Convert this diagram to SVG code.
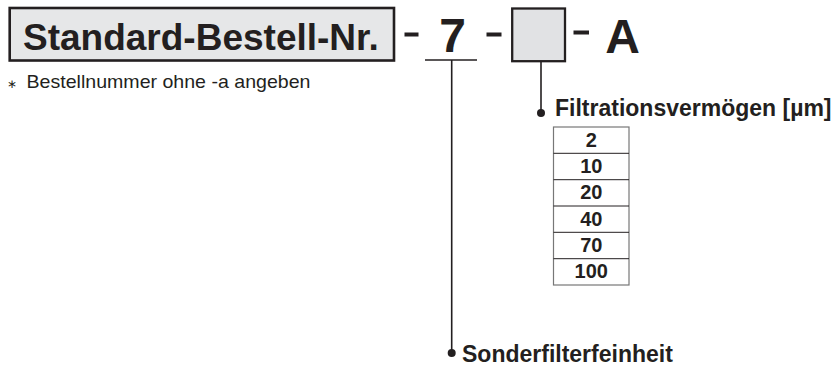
<svg xmlns="http://www.w3.org/2000/svg" width="838" height="367" viewBox="0 0 838 367">
<style>
text{font-family:"Liberation Sans",Arial,sans-serif;fill:#231f20}
.b{font-weight:bold}
.ln{stroke:#231f20;stroke-width:1.6;fill:none}
.dash{fill:#231f20}
.num{font-size:20px;font-weight:bold;text-anchor:middle}
.row{stroke:#231f20;stroke-width:1}
</style>
<rect width="838" height="367" fill="#fff"/>
<g id="title">
<rect x="9.7" y="8" width="384.3" height="52.5" fill="#e6e7e8" stroke="#231f20" stroke-width="2.6"/>
<text x="23" y="50" class="b" font-size="37">Standard-Bestell-Nr.</text>
</g>
<g id="dashes">
<rect class="dash" x="404.5" y="32.5" width="14" height="4"/>
<rect class="dash" x="486.5" y="32.5" width="15" height="4"/>
<rect class="dash" x="573.5" y="30.5" width="15.5" height="4"/>
</g>
<g id="seven">
<text x="452.5" y="52" class="b" font-size="48" text-anchor="middle">7</text>
</g>
<g id="box">
<rect x="512.2" y="8.5" width="52.8" height="52.7" fill="#e1e2e4" stroke="#231f20" stroke-width="2.3"/>
</g>
<g id="suffix">
<text x="622.5" y="53" class="b" font-size="48" text-anchor="middle">A</text>
</g>
<g id="note">
<text x="7" y="88" font-size="12">∗</text>
<text x="26.5" y="88.3" font-size="19" textLength="284" lengthAdjust="spacingAndGlyphs">Bestellnummer ohne -a angeben</text>
</g>
<g id="connectors">
<line class="ln" x1="425" y1="60" x2="477" y2="60"/>
<line class="ln" x1="451.7" y1="60" x2="451.7" y2="353"/>
<circle cx="451.7" cy="353" r="4" fill="#231f20"/>
<line class="ln" x1="541" y1="61" x2="541" y2="113"/>
<circle cx="541" cy="113" r="4" fill="#231f20"/>
</g>
<g id="filtration">
<text x="555" y="116" class="b" font-size="23">Filtrationsvermögen [µm]</text>
<rect x="553.5" y="127" width="75.5" height="158" fill="#fff" stroke="#777" stroke-width="1.2"/>
<line class="row" x1="553.5" y1="153.3" x2="629" y2="153.3"/>
<line class="row" x1="553.5" y1="179.7" x2="629" y2="179.7"/>
<line class="row" x1="553.5" y1="206" x2="629" y2="206"/>
<line class="row" x1="553.5" y1="232.3" x2="629" y2="232.3"/>
<line class="row" x1="553.5" y1="258.7" x2="629" y2="258.7"/>
<text class="num" x="591.3" y="146.5">2</text>
<text class="num" x="591.3" y="172.8">10</text>
<text class="num" x="591.3" y="199.2">20</text>
<text class="num" x="591.3" y="225.5">40</text>
<text class="num" x="591.3" y="251.8">70</text>
<text class="num" x="591.3" y="278.2">100</text>
</g>
<g id="sonder">
<text x="462" y="362" class="b" font-size="23">Sonderfilterfeinheit</text>
</g>
</svg>
